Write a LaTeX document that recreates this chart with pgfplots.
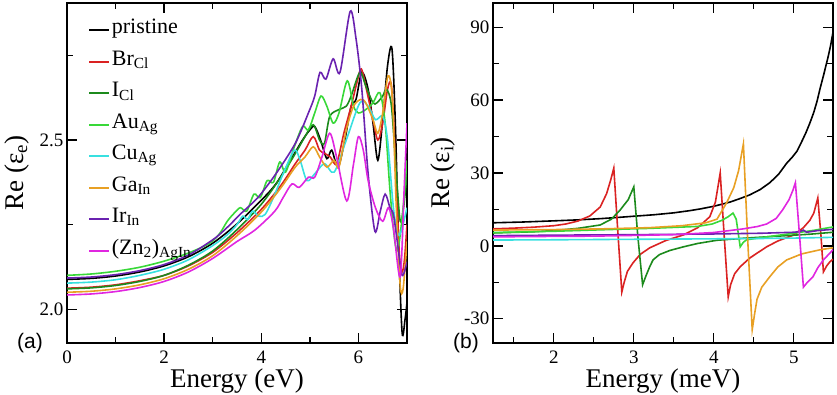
\documentclass[border=0pt]{standalone}
\usepackage{fontspec}
\setmainfont{Liberation Serif}
\newfontfamily\sansf{Liberation Sans}
\usepackage{pgfplots}
\pgfplotsset{compat=1.18}
\definecolor{cBr}{HTML}{DA2222}
\definecolor{cI}{HTML}{1C8A1C}
\definecolor{cAu}{HTML}{38D838}
\definecolor{cCu}{HTML}{38E0E0}
\definecolor{cGa}{HTML}{E8A024}
\definecolor{cIr}{HTML}{6A22B0}
\definecolor{cZn}{HTML}{E026E0}
\pgfplotsset{myax/.style={scale only axis, width=340pt, height=340pt,
  axis line style={line width=1.6pt},
  every tick/.style={line width=1.3pt, black},
  major tick length=10pt, minor tick length=6pt, tick align=inside,
  xtick pos=both, ytick pos=both,
  tick label style={font=\fontsize{19}{19}\selectfont},
  /pgf/number format/assume math mode=true,
  xticklabel style={anchor=base, yshift=-20pt},
  label style={font=\fontsize{27}{27}\selectfont},
  xlabel style={at={(axis description cs:0.5,0)}, anchor=base, yshift=-44pt},
  ylabel style={at={(axis description cs:-0.128,0.5)}, anchor=base},
  every axis plot/.append style={line width=1.6pt, no marks},
  legend image code/.code={\draw[#1, line width=2.2pt] (0pt,0.3pt) -- (20pt,0.3pt);},
}}
\begin{document}
\begin{tikzpicture}
\path[use as bounding box] (0pt,0pt) rectangle (837pt,394pt);
\begin{axis}[myax, at={(67pt,51pt)}, anchor=south west,
  xmin=0, xmax=7, ymin=1.9, ymax=2.905,
  xtick={0,2,4,6}, minor xtick={1,3,5,7},
  ytick={2.0,2.5}, minor ytick={2.25,2.75},
  yticklabel style={/pgf/number format/.cd, fixed, fixed zerofill, precision=1},
  xlabel={Energy (eV)}, ylabel={Re (ε\textsubscript{e})},
  legend style={draw=none, fill=none, at={(0.053,0.962)}, anchor=north west,
    font=\fontsize{22}{22}\selectfont, row sep=6.5pt,
    nodes={inner sep=1.5pt, text height=14pt, text depth=8pt}},
  legend cell align=left]
\addplot[black, smooth] coordinates {(0,2.088)(0.5,2.091)(1,2.098)(1.5,2.11)(2,2.128)(2.5,2.155)(3,2.195)(3.5,2.252)(4,2.322)(4.3,2.37)(4.6,2.44)(4.85,2.50)(5.0,2.53)(5.1,2.54)(5.22,2.50)(5.35,2.445)(5.45,2.47)(5.58,2.42)(5.72,2.50)(5.85,2.60)(5.95,2.62)(6.07,2.70)(6.2,2.65)(6.3,2.55)(6.4,2.44)(6.5,2.56)(6.6,2.72)(6.69,2.77)(6.76,2.55)(6.83,2.18)(6.9,1.93)(6.96,1.97)(7,2.02)};
\addlegendentry{pristine}
\addplot[cBr, smooth] coordinates {(0,2.062)(0.5,2.065)(1,2.072)(1.5,2.084)(2,2.10)(2.5,2.128)(3,2.168)(3.5,2.226)(4,2.295)(4.4,2.365)(4.7,2.43)(4.9,2.47)(5.07,2.51)(5.2,2.47)(5.31,2.46)(5.42,2.45)(5.55,2.43)(5.7,2.52)(5.85,2.60)(5.97,2.67)(6.06,2.71)(6.18,2.64)(6.3,2.56)(6.4,2.50)(6.5,2.55)(6.6,2.65)(6.68,2.66)(6.76,2.45)(6.84,2.17)(6.9,2.11)(6.95,2.15)(7,2.25)};
\addlegendentry{Br\textsubscript{Cl}}
\addplot[cI, smooth] coordinates {(0,2.060)(0.5,2.063)(1,2.07)(1.5,2.082)(2,2.10)(2.5,2.13)(3,2.172)(3.5,2.235)(4,2.31)(4.4,2.39)(4.7,2.46)(4.9,2.51)(5.07,2.545)(5.2,2.50)(5.3,2.49)(5.41,2.57)(5.6,2.59)(5.75,2.60)(5.85,2.63)(6.03,2.70)(6.15,2.66)(6.3,2.61)(6.38,2.61)(6.5,2.63)(6.58,2.65)(6.68,2.60)(6.78,2.40)(6.86,2.26)(6.93,2.30)(7,2.40)};
\addlegendentry{I\textsubscript{Cl}}
\addplot[cAu, smooth] coordinates {(0,2.100)(0.5,2.104)(1,2.112)(1.5,2.124)(2,2.142)(2.5,2.166)(2.94,2.195)(3.15,2.225)(3.3,2.26)(3.45,2.285)(3.57,2.30)(3.7,2.29)(3.85,2.34)(3.98,2.33)(4.12,2.38)(4.25,2.375)(4.38,2.435)(4.5,2.405)(4.68,2.48)(4.85,2.54)(4.97,2.53)(5.1,2.58)(5.23,2.63)(5.35,2.60)(5.48,2.55)(5.6,2.58)(5.77,2.675)(5.9,2.60)(6.0,2.58)(6.15,2.59)(6.3,2.61)(6.44,2.64)(6.55,2.55)(6.65,2.35)(6.75,2.20)(6.82,2.18)(6.92,2.30)(7,2.44)};
\addlegendentry{Au\textsubscript{Ag}}
\addplot[cCu, smooth] coordinates {(0,2.077)(0.5,2.08)(1,2.087)(1.5,2.10)(2,2.118)(2.5,2.146)(3,2.188)(3.3,2.22)(3.5,2.25)(3.62,2.275)(3.72,2.265)(3.82,2.29)(3.95,2.275)(4.08,2.28)(4.25,2.33)(4.45,2.40)(4.68,2.47)(4.8,2.44)(4.94,2.38)(5.1,2.40)(5.3,2.43)(5.5,2.405)(5.75,2.50)(6.03,2.61)(6.2,2.60)(6.35,2.56)(6.5,2.57)(6.6,2.50)(6.72,2.30)(6.82,2.22)(6.9,2.24)(7,2.30)};
\addlegendentry{Cu\textsubscript{Ag}}
\addplot[cGa, smooth] coordinates {(0,2.050)(0.5,2.053)(1,2.06)(1.5,2.072)(2,2.09)(2.5,2.118)(3,2.158)(3.5,2.217)(4,2.287)(4.4,2.358)(4.7,2.42)(4.9,2.45)(5.07,2.48)(5.2,2.45)(5.35,2.42)(5.5,2.44)(5.6,2.42)(5.75,2.53)(5.9,2.60)(6.05,2.62)(6.15,2.61)(6.3,2.56)(6.4,2.52)(6.5,2.58)(6.61,2.69)(6.7,2.62)(6.78,2.30)(6.86,2.07)(6.92,2.06)(7,2.20)};
\addlegendentry{Ga\textsubscript{In}}
\addplot[cIr, smooth] coordinates {(0,2.092)(0.5,2.095)(1,2.102)(1.5,2.114)(2,2.132)(2.5,2.16)(3,2.205)(3.25,2.235)(3.6,2.285)(3.93,2.33)(4.3,2.40)(4.7,2.49)(4.97,2.58)(5.1,2.63)(5.21,2.70)(5.33,2.68)(5.48,2.74)(5.62,2.70)(5.83,2.88)(5.95,2.80)(6.07,2.65)(6.2,2.40)(6.34,2.23)(6.45,2.29)(6.55,2.34)(6.65,2.30)(6.72,2.28)(6.8,2.20)(6.9,2.10)(7,2.14)};
\addlegendentry{Ir\textsubscript{In}}
\addplot[cZn, smooth] coordinates {(0,2.042)(0.5,2.045)(1,2.052)(1.5,2.064)(2,2.082)(2.5,2.11)(3,2.15)(3.5,2.20)(3.87,2.234)(4.28,2.29)(4.45,2.33)(4.63,2.37)(4.78,2.36)(4.97,2.39)(5.1,2.39)(5.25,2.45)(5.41,2.52)(5.55,2.45)(5.76,2.32)(5.9,2.43)(6.0,2.51)(6.1,2.47)(6.2,2.38)(6.35,2.30)(6.5,2.26)(6.62,2.30)(6.72,2.24)(6.86,2.095)(6.94,2.35)(7,2.55)};
\addlegendentry{(Zn\textsubscript{2})\textsubscript{AgIn}}
\end{axis}
\begin{axis}[myax, at={(493pt,51pt)}, anchor=south west,
  xmin=1.24, xmax=5.49, ymin=-40, ymax=100,
  xtick={2,3,4,5}, minor xtick={1.5,2.5,3.5,4.5},
  ytick={-30,0,30,60,90}, minor ytick={-15,15,45,75},
  xlabel={Energy (meV)}, ylabel={Re (ε\textsubscript{i})}]
\addplot[black] coordinates {(1.24,9.5)(1.6,9.8)(2.0,10.3)(2.3,10.7)(2.58,11.2)(2.8,11.7)(3.0,12.2)(3.25,12.8)(3.5,13.6)(3.7,14.5)(3.83,15.2)(4.0,16.3)(4.2,18)(4.33,19.5)(4.45,21)(4.58,23.2)(4.7,26)(4.81,29.5)(4.91,34)(4.98,36.5)(5.04,39)(5.1,43)(5.15,46.5)(5.2,50.5)(5.25,55)(5.29,59.5)(5.33,65)(5.37,70)(5.4,74)(5.43,78)(5.46,82.5)(5.49,88)};
\addplot[cBr] coordinates {(1.24,7.0)(1.5,7.3)(1.75,7.7)(2.0,8.3)(2.15,9.0)(2.3,10.2)(2.45,12.3)(2.58,16)(2.66,21.5)(2.71,27)(2.75,32)(2.80,6)(2.85,-19)(2.88,-15)(2.92,-10.5)(2.99,-7)(3.08,-3.5)(3.2,-0.8)(3.4,2.2)(3.62,4.5)(3.8,7.5)(3.95,12)(4.02,18)(4.08,30)(4.13,4)(4.18,-21)(4.21,-16)(4.26,-11.5)(4.33,-8.6)(4.45,-5)(4.55,-2.8)(4.66,-0.4)(4.8,2)(5.0,4.5)(5.12,7.5)(5.2,10.5)(5.25,13.5)(5.3,19.7)(5.34,4)(5.37,-10.7)(5.41,-8.3)(5.45,-6.6)(5.49,-5.5)};
\addplot[cI] coordinates {(1.24,5.3)(1.75,5.8)(2.0,6.3)(2.3,7.2)(2.58,8.6)(2.72,11)(2.83,14.8)(2.93,19)(3.0,24.3)(3.05,4)(3.11,-16)(3.15,-12.5)(3.2,-8.5)(3.24,-5.8)(3.32,-3.6)(3.45,-1.9)(3.62,-0.4)(3.8,1.0)(4.04,2.3)(4.4,3.2)(4.8,4.0)(5.2,4.8)(5.49,5.6)};
\addplot[cAu] coordinates {(1.24,5.5)(2.0,6.0)(2.58,6.6)(3.2,7.2)(3.8,8.0)(3.98,9.0)(4.1,10.5)(4.18,12)(4.24,13.5)(4.28,11)(4.33,-0.4)(4.37,1.5)(4.41,2.5)(4.66,3.7)(5.0,5.2)(5.25,6.4)(5.49,7.8)};
\addplot[cCu] coordinates {(1.24,2.4)(2.0,2.5)(3.0,2.7)(4.0,2.9)(4.5,3.0)(5.0,3.2)(5.49,3.5)};
\addplot[cGa] coordinates {(1.24,6.5)(2.0,6.7)(2.6,7.0)(3.2,7.5)(3.6,8.3)(3.9,9.5)(4.04,11)(4.16,17.7)(4.25,24)(4.31,31)(4.37,42)(4.42,5)(4.48,-34.5)(4.51,-28)(4.54,-22)(4.6,-17)(4.7,-12.7)(4.8,-8.7)(4.91,-5.8)(5.1,-3.3)(5.33,-1.6)(5.49,-0.8)};
\addplot[cIr] coordinates {(1.24,4.2)(2.0,4.4)(3.0,4.6)(4.0,4.9)(4.6,5.2)(5.0,5.6)(5.08,5.9)(5.12,6.5)(5.16,5.6)(5.3,6.3)(5.49,6.8)};
\addplot[cZn] coordinates {(1.24,3.7)(2.0,3.9)(2.5,4.0)(3.0,4.3)(3.5,4.6)(4.0,5.5)(4.37,7.0)(4.55,8.0)(4.66,9.0)(4.78,11.3)(4.86,14.8)(4.94,19)(4.99,23)(5.02,26)(5.07,5)(5.12,-17)(5.17,-15)(5.24,-12.7)(5.3,-9)(5.37,-5.8)(5.49,-1.6)};
\end{axis}
\node[font=\sansf\fontsize{21}{21}\selectfont, anchor=base west, inner sep=0pt] at (17pt,46pt) {(a)};
\node[font=\sansf\fontsize{21}{21}\selectfont, anchor=base west, inner sep=0pt] at (453pt,46pt) {(b)};
\end{tikzpicture}
\end{document}
